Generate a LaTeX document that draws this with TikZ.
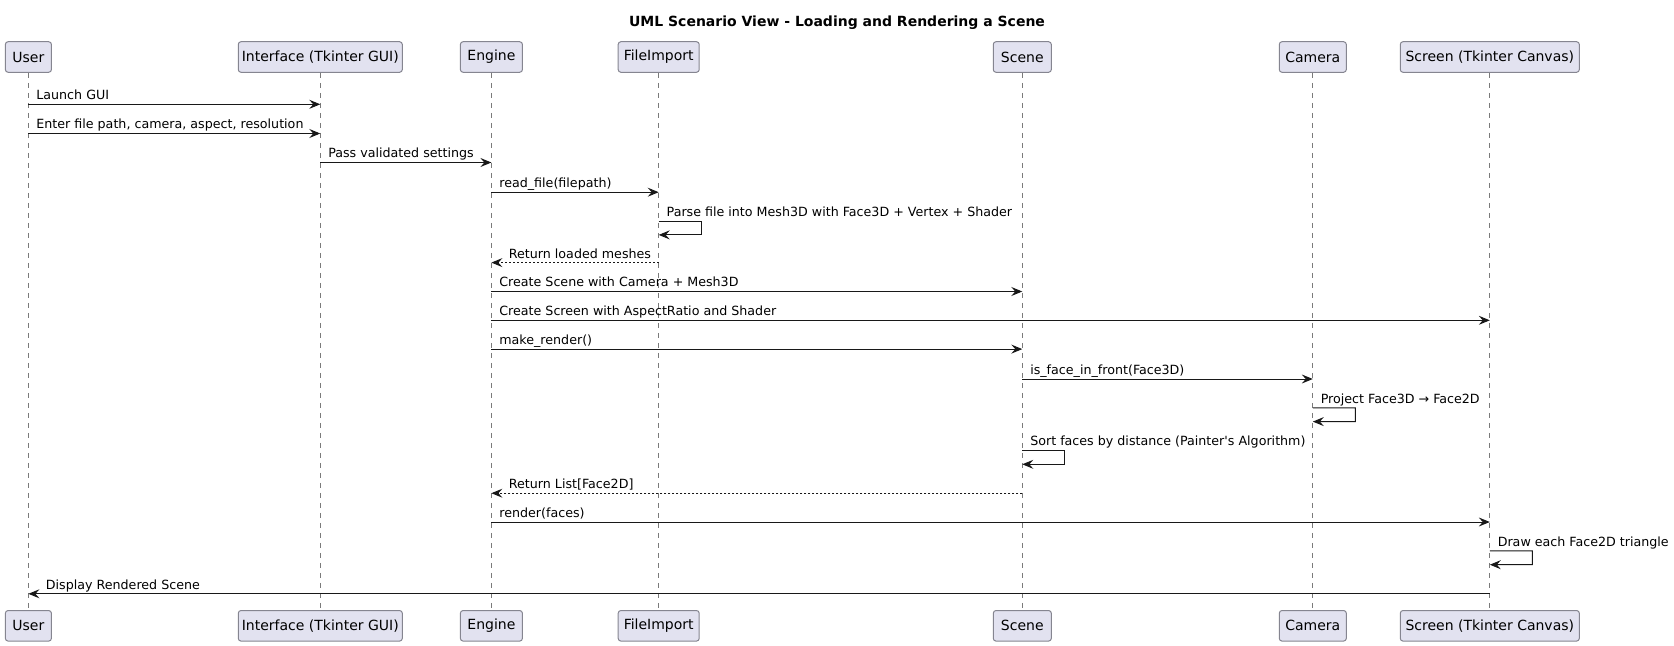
\documentclass[tikz,border=0pt]{standalone}
\usepackage{fontspec}
\setmainfont{DejaVu Sans}[Ligatures=TeXOff]
\usetikzlibrary{arrows.meta}
\definecolor{pfill}{HTML}{E2E2F0}
\definecolor{pline}{HTML}{858590}
\definecolor{ink}{HTML}{181818}
\definecolor{lifec}{HTML}{7A7A7A}
\begin{document}
\begin{tikzpicture}[x=0.75pt,y=-0.75pt,
  part/.style={draw=pline, fill=pfill, rounded corners=2pt, minimum height=22.9pt, inner sep=0pt, line width=0.75pt, font=\fontsize{10.5pt}{12pt}\selectfont},
  life/.style={draw=lifec, line width=0.6pt, dash pattern=on 3.75pt off 3.75pt},
  msg/.style={draw=ink, line width=0.75pt, -{Stealth[length=8.25pt,width=6.75pt,inset=3pt]}},
  ret/.style={msg, dash pattern=on 1.5pt off 1.5pt},
  lbl/.style={font=\fontsize{9.5pt}{11pt}\selectfont, inner sep=0pt, anchor=base west, text=black},
  rl/.style={lbl, xshift=5.6pt, yshift=3.4pt},
  ll/.style={lbl, xshift=12.75pt, yshift=3.4pt},
]
\useasboundingbox (0,0) rectangle (1674,646);
\node[font=\fontsize{10.5pt}{12pt}\selectfont\bfseries] (title) at (837,22.4) {UML Scenario View - Loading and Rendering a Scene};

% participants top / bottom
\foreach \n/\x/\w/\t in {u/28.4/34.5pt/User, i/320.3/123pt/Interface (Tkinter GUI), e/491.4/46.5pt/Engine, f/658.7/60.75pt/FileImport, s/1022.3/43.5pt/Scene, c/1312.8/50.25pt/Camera, r/1489.8/134.25pt/Screen (Tkinter Canvas)}{
  \node[part, minimum width=\w] (\n T) at (\x,57) {\t};
  \node[part, minimum width=\w] (\n B) at (\x,625.8) {\t};
  \draw[life] (\n T.south) -- (\n B.north);
}

% messages
\draw[msg] (uT |- 0,104.3) -- node[at start, rl] {Launch GUI} (iT |- 0,104.3);
\draw[msg] (uT |- 0,133.5) -- node[at start, rl] {Enter file path, camera, aspect, resolution} (iT |- 0,133.5);
\draw[msg] (iT |- 0,162.5) -- node[at start, rl] {Pass validated settings} (eT |- 0,162.5);
\draw[msg] (eT |- 0,192.2) -- node[at start, rl] {read\_file(filepath)} (fT |- 0,192.2);
\draw[msg] (fT |- 0,221.1) -- node[at start, rl] {Parse file into Mesh3D with Face3D + Vertex + Shader} ++(42.5,0) -- ++(0,13.8) -- (fT |- 0,234.9);
\draw[ret] (fT |- 0,262.6) -- node[at end, ll] {Return loaded meshes} (eT |- 0,262.6);
\draw[msg] (eT |- 0,291.5) -- node[at start, rl] {Create Scene with Camera + Mesh3D} (sT |- 0,291.5);
\draw[msg] (eT |- 0,320.3) -- node[at start, rl] {Create Screen with AspectRatio and Shader} (rT |- 0,320.3);
\draw[msg] (eT |- 0,349.1) -- node[at start, rl] {make\_render()} (sT |- 0,349.1);
\draw[msg] (sT |- 0,379) -- node[at start, rl] {is\_face\_in\_front(Face3D)} (cT |- 0,379);
\draw[msg] (cT |- 0,407.8) -- node[at start, rl] {Project Face3D → Face2D} ++(42.5,0) -- ++(0,13.8) -- (cT |- 0,421.6);
\draw[msg] (sT |- 0,450.5) -- node[at start, rl] {Sort faces by distance (Painter's Algorithm)} ++(42.5,0) -- ++(0,13.8) -- (sT |- 0,464.3);
\draw[ret] (sT |- 0,493.2) -- node[at end, ll] {Return List[Face2D]} (eT |- 0,493.2);
\draw[msg] (eT |- 0,522) -- node[at start, rl] {render(faces)} (rT |- 0,522);
\draw[msg] (rT |- 0,550.9) -- node[at start, rl] {Draw each Face2D triangle} ++(42.5,0) -- ++(0,13.8) -- (rT |- 0,564.7);
\draw[msg] (rT |- 0,593.8) -- node[at end, ll] {Display Rendered Scene} (uT |- 0,593.8);
\end{tikzpicture}
\end{document}
